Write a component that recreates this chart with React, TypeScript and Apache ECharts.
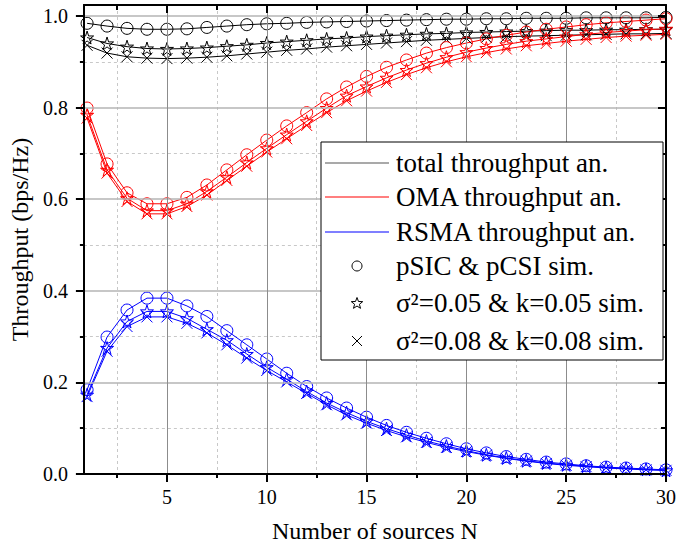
import React, { useEffect, useRef } from 'react';
import * as echarts from 'echarts';

const sources = [1, 2, 3, 4, 5, 6, 7, 8, 9, 10, 11, 12, 13, 14, 15, 16, 17, 18, 19, 20, 21, 22, 23, 24, 25, 26, 27, 28, 29, 30];

const totalPerfect = [0.984, 0.978, 0.973, 0.971, 0.971, 0.972, 0.975, 0.978, 0.981, 0.983, 0.984, 0.986, 0.987, 0.988, 0.989, 0.990, 0.991, 0.992, 0.993, 0.993, 0.994, 0.994, 0.995, 0.995, 0.995, 0.996, 0.996, 0.996, 0.996, 0.997];
const totalS05 = [0.953, 0.940, 0.933, 0.929, 0.928, 0.929, 0.931, 0.934, 0.937, 0.941, 0.944, 0.947, 0.950, 0.952, 0.955, 0.957, 0.959, 0.961, 0.962, 0.964, 0.965, 0.966, 0.967, 0.968, 0.969, 0.969, 0.970, 0.970, 0.971, 0.971];
const totalS08 = [0.936, 0.919, 0.911, 0.908, 0.907, 0.908, 0.910, 0.913, 0.917, 0.921, 0.925, 0.928, 0.932, 0.935, 0.938, 0.941, 0.944, 0.947, 0.949, 0.951, 0.953, 0.955, 0.956, 0.957, 0.958, 0.959, 0.960, 0.961, 0.961, 0.962];

const omaPerfect = [0.799, 0.677, 0.614, 0.590, 0.590, 0.604, 0.631, 0.664, 0.697, 0.729, 0.760, 0.789, 0.819, 0.845, 0.868, 0.888, 0.904, 0.919, 0.931, 0.941, 0.950, 0.958, 0.965, 0.971, 0.976, 0.981, 0.985, 0.988, 0.991, 0.994];
const omaS05 = [0.784, 0.664, 0.602, 0.575, 0.575, 0.590, 0.617, 0.648, 0.680, 0.711, 0.741, 0.770, 0.799, 0.826, 0.846, 0.865, 0.882, 0.897, 0.910, 0.921, 0.930, 0.938, 0.945, 0.950, 0.955, 0.960, 0.964, 0.967, 0.970, 0.972];
const omaS08 = [0.777, 0.657, 0.595, 0.568, 0.568, 0.584, 0.609, 0.641, 0.672, 0.703, 0.732, 0.761, 0.789, 0.815, 0.836, 0.855, 0.872, 0.887, 0.900, 0.911, 0.920, 0.928, 0.935, 0.940, 0.945, 0.949, 0.953, 0.956, 0.958, 0.960];

const rsmaPerfect = [0.184, 0.299, 0.358, 0.384, 0.384, 0.367, 0.344, 0.313, 0.282, 0.251, 0.220, 0.191, 0.166, 0.144, 0.124, 0.106, 0.091, 0.078, 0.066, 0.055, 0.046, 0.038, 0.032, 0.026, 0.022, 0.018, 0.015, 0.013, 0.011, 0.009];
const rsmaS05 = [0.173, 0.275, 0.333, 0.355, 0.355, 0.340, 0.316, 0.292, 0.262, 0.233, 0.207, 0.180, 0.155, 0.134, 0.115, 0.099, 0.085, 0.072, 0.061, 0.051, 0.042, 0.035, 0.029, 0.024, 0.020, 0.017, 0.014, 0.012, 0.010, 0.008];
const rsmaS08 = [0.169, 0.268, 0.322, 0.343, 0.343, 0.329, 0.308, 0.282, 0.253, 0.226, 0.201, 0.176, 0.151, 0.129, 0.111, 0.095, 0.081, 0.069, 0.058, 0.049, 0.041, 0.034, 0.028, 0.023, 0.019, 0.016, 0.013, 0.011, 0.009, 0.008];

const xMajorTicks = [5, 10, 15, 20, 25, 30];
const xMinorTicks = [2.5, 7.5, 12.5, 17.5, 22.5, 27.5];
const yMajorTicks = [0, 0.2, 0.4, 0.6, 0.8, 1.0];
const yMinorTicks = [0.1, 0.3, 0.5, 0.7, 0.9];

const legendLines = ['total throughput an.', 'OMA throughput an.', 'RSMA throughput an.'];
const legendMarkers = ['pSIC & pCSI sim.', 'σ²=0.05 & k=0.05 sim.', 'σ²=0.08 & k=0.08 sim.'];

const FONT = '"Liberation Serif", "Times New Roman", serif';
const BLACK = '#000000';
const RED = '#ff0000';
const BLUE = '#0000ff';
const STAR = 'path://M50,2L61.2,36.5L97.6,36.5L68.2,57.9L79.4,92.5L50,71.1L20.6,92.5L31.8,57.9L2.4,36.5L38.8,36.5Z';
const CROSS = 'path://M0,0L10,10M10,0L0,10';

const X_MIN = 0.84;
const X_MAX = 30;
const Y_MIN = 0;
const Y_MAX = 1.024;

function makeSeries(name: string, values: number[], color: string, symbol: string, size: number) {
  return {
    name,
    type: 'line',
    xAxisIndex: 0,
    yAxisIndex: 0,
    data: sources.map((x, i) => [x, values[i]]),
    symbol,
    symbolSize: size,
    showSymbol: true,
    showAllSymbol: true,
    silent: true,
    lineStyle: { color, width: 1 },
    itemStyle: { color: 'transparent', borderColor: color, borderWidth: 1 },
    emphasis: { disabled: true },
    z: 3,
  };
}

function starPoints(cx: number, cy: number, r: number) {
  const pts: number[][] = [];
  for (let i = 0; i < 10; i++) {
    const rr = i % 2 === 0 ? r : r * 0.42;
    const a = -Math.PI / 2 + (i * Math.PI) / 5;
    pts.push([cx + rr * Math.cos(a), cy + rr * Math.sin(a)]);
  }
  return pts;
}

export default function App() {
  const ref = useRef<HTMLDivElement>(null);
  useEffect(() => {
    if (!ref.current) return;
    const chart = echarts.init(ref.current, null, { renderer: 'svg' });

    const axisBase = { type: 'value', min: X_MIN, max: X_MAX, gridIndex: 0 };
    const yBase = { type: 'value', min: Y_MIN, max: Y_MAX, gridIndex: 0 };

    const rowY = [163, 197, 232, 266, 303, 341];
    const lineColors = ['#555555', RED, BLUE];
    const legendX0 = 325, legendX1 = 389, markX = 357, textX = 396;
    const textStyle = (t: string) => ({ text: t, fontSize: 27, fontFamily: FONT, fill: '#000', verticalAlign: 'middle', align: 'left' });

    const graphics: any[] = [
      { type: 'rect', z: 100, shape: { x: 321, y: 142, width: 342, height: 218 }, style: { fill: '#ffffff', stroke: '#000', lineWidth: 1 } },
    ];
    legendLines.forEach((t, i) => {
      graphics.push({ type: 'line', z: 101, shape: { x1: legendX0, y1: rowY[i], x2: legendX1, y2: rowY[i] }, style: { stroke: lineColors[i], lineWidth: 1.2 } });
      graphics.push({ type: 'text', z: 101, x: textX, y: rowY[i], style: textStyle(t) });
    });
    legendMarkers.forEach((t, j) => {
      const y = rowY[3 + j];
      if (j === 0) graphics.push({ type: 'circle', z: 101, shape: { cx: markX, cy: y, r: 5 }, style: { fill: 'none', stroke: '#000', lineWidth: 1 } });
      if (j === 1) graphics.push({ type: 'polygon', z: 101, shape: { points: starPoints(markX, y + 0.5, 6) }, style: { fill: 'none', stroke: '#000', lineWidth: 1 } });
      if (j === 2) {
        graphics.push({ type: 'line', z: 101, shape: { x1: markX - 5, y1: y - 5, x2: markX + 5, y2: y + 5 }, style: { stroke: '#000', lineWidth: 1 } });
        graphics.push({ type: 'line', z: 101, shape: { x1: markX + 5, y1: y - 5, x2: markX - 5, y2: y + 5 }, style: { stroke: '#000', lineWidth: 1 } });
      }
      graphics.push({ type: 'text', z: 101, x: textX, y, style: textStyle(t) });
    });

    const option: any = {
      animation: false,
      backgroundColor: '#ffffff',
      textStyle: { fontFamily: FONT },
      grid: { left: 83, right: 31, top: 5, bottom: 76, containLabel: false },
      xAxis: [
        {
          ...axisBase,
          position: 'bottom',
          name: 'Number of sources N',
          nameLocation: 'middle',
          nameGap: 45,
          nameTextStyle: { fontSize: 24, fontFamily: FONT, color: '#000' },
          axisLine: { show: true, onZero: false, lineStyle: { color: '#000', width: 2 } },
          axisTick: { show: true, inside: false, length: 8, customValues: xMajorTicks, lineStyle: { color: '#000', width: 2 } },
          axisLabel: { show: true, customValues: xMajorTicks, fontSize: 20, fontFamily: FONT, color: '#000', margin: 13 },
          splitLine: { show: true, lineStyle: { color: '#8c8c8c', width: 1 } },
          z: 5,
        },
        {
          ...axisBase,
          position: 'bottom',
          axisLine: { show: false, onZero: false },
          axisTick: { show: true, inside: false, length: 4, customValues: xMinorTicks, lineStyle: { color: '#000', width: 2 } },
          axisLabel: { show: false },
          splitLine: { show: true, lineStyle: { color: '#c8c8c8', width: 1, type: [3, 3] } },
        },
        {
          ...axisBase,
          position: 'top',
          axisLine: { show: true, onZero: false, lineStyle: { color: '#000', width: 2 } },
          axisTick: { show: true, inside: true, length: 8, customValues: xMajorTicks, lineStyle: { color: '#000', width: 2 } },
          axisLabel: { show: false },
          splitLine: { show: false },
          z: 5,
        },
        {
          ...axisBase,
          position: 'top',
          axisLine: { show: false, onZero: false },
          axisTick: { show: true, inside: true, length: 5, customValues: xMinorTicks, lineStyle: { color: '#000', width: 2 } },
          axisLabel: { show: false },
          splitLine: { show: false },
        },
      ],
      yAxis: [
        {
          ...yBase,
          position: 'left',
          name: 'Throughput (bps/Hz)',
          nameLocation: 'middle',
          nameGap: 46,
          nameTextStyle: { fontSize: 24, fontFamily: FONT, color: '#000' },
          axisLine: { show: true, onZero: false, lineStyle: { color: '#000', width: 2 } },
          axisTick: { show: true, inside: false, length: 8, customValues: yMajorTicks, lineStyle: { color: '#000', width: 2 } },
          axisLabel: { show: true, customValues: yMajorTicks, fontSize: 20, fontFamily: FONT, color: '#000', margin: 16, formatter: (v: number) => v.toFixed(1) },
          splitLine: { show: true, lineStyle: { color: '#b4b4b4', width: 1.5 } },
          z: 5,
        },
        {
          ...yBase,
          position: 'left',
          axisLine: { show: false, onZero: false },
          axisTick: { show: true, inside: false, length: 4, customValues: yMinorTicks, lineStyle: { color: '#000', width: 2 } },
          axisLabel: { show: false },
          splitLine: { show: true, lineStyle: { color: '#c8c8c8', width: 1, type: [3, 3] } },
        },
        {
          ...yBase,
          position: 'right',
          axisLine: { show: true, onZero: false, lineStyle: { color: '#000', width: 2 } },
          axisTick: { show: true, inside: true, length: 8, customValues: yMajorTicks, lineStyle: { color: '#000', width: 2 } },
          axisLabel: { show: false },
          splitLine: { show: false },
          z: 5,
        },
        {
          ...yBase,
          position: 'right',
          axisLine: { show: false, onZero: false },
          axisTick: { show: true, inside: true, length: 5, customValues: yMinorTicks, lineStyle: { color: '#000', width: 2 } },
          axisLabel: { show: false },
          splitLine: { show: false },
        },
      ],
      series: [
        makeSeries('total pSIC', totalPerfect, BLACK, 'circle', 12),
        makeSeries('total 0.05', totalS05, BLACK, STAR, 13),
        makeSeries('total 0.08', totalS08, BLACK, CROSS, 11),
        makeSeries('OMA pSIC', omaPerfect, RED, 'circle', 12),
        makeSeries('OMA 0.05', omaS05, RED, STAR, 13),
        makeSeries('OMA 0.08', omaS08, RED, CROSS, 11),
        makeSeries('RSMA pSIC', rsmaPerfect, BLUE, 'circle', 12),
        makeSeries('RSMA 0.05', rsmaS05, BLUE, STAR, 13),
        makeSeries('RSMA 0.08', rsmaS08, BLUE, CROSS, 11),
      ],
      graphic: graphics,
    };
    chart.setOption(option);
    return () => chart.dispose();
  }, []);

  return <div ref={ref} style={{ position: 'fixed', left: 0, top: 0, width: 697, height: 550, background: '#fff' }} />;
}
